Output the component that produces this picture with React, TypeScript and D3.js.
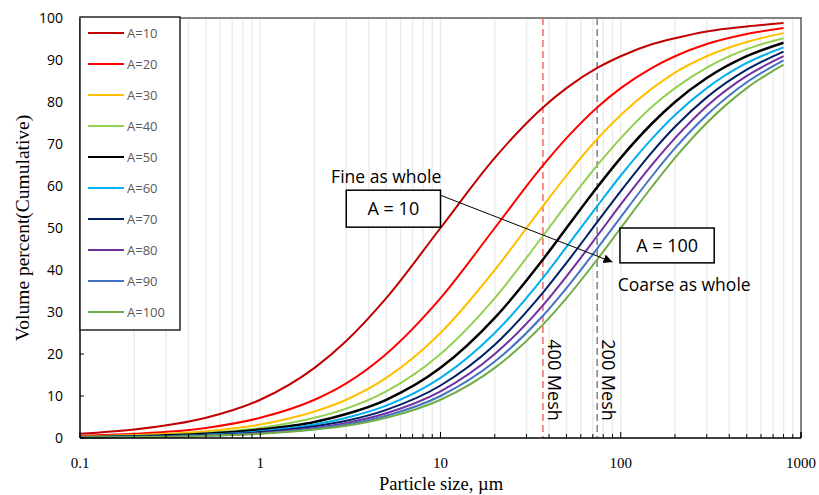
import { useEffect, useRef } from 'react';
import * as d3 from 'd3';

// particle sizes (µm) where the curves were read
const SIZES = [0.1, 0.2, 0.5, 1, 2, 3, 5, 10, 20, 37, 50, 74, 100, 150, 200, 300, 500, 800];

const A10 = [1.0, 2.0, 4.8, 9.1, 16.7, 23.1, 33.3, 50.0, 66.7, 78.7, 83.3, 88.1, 90.9, 93.8, 95.2, 96.8, 98.0, 98.8];
const A20 = [0.5, 1.0, 2.4, 4.8, 9.1, 13.0, 20.0, 33.3, 50.0, 64.9, 71.4, 78.7, 83.3, 88.2, 90.9, 93.8, 96.2, 97.6];
const A30 = [0.3, 0.7, 1.6, 3.2, 6.3, 9.1, 14.3, 25.0, 40.0, 55.2, 62.5, 71.2, 76.9, 83.3, 87.0, 90.9, 94.3, 96.4];
const A40 = [0.25, 0.5, 1.2, 2.4, 4.8, 7.0, 11.1, 20.0, 33.3, 48.1, 55.6, 64.9, 71.4, 79.0, 83.3, 88.2, 92.6, 95.2];
const A50 = [0.2, 0.4, 1.0, 2.0, 3.8, 5.7, 9.1, 16.7, 28.6, 42.5, 50.0, 59.7, 66.7, 75.0, 80.0, 85.7, 90.9, 94.1];
const A60 = [0.17, 0.33, 0.8, 1.6, 3.2, 4.8, 7.7, 14.3, 25.0, 38.1, 45.5, 55.2, 62.5, 71.4, 76.9, 83.3, 89.3, 93.0];
const A70 = [0.14, 0.28, 0.7, 1.4, 2.8, 4.1, 6.7, 12.5, 22.2, 34.6, 41.7, 51.4, 58.8, 68.2, 74.1, 81.1, 87.7, 92.0];
const A80 = [0.12, 0.25, 0.6, 1.2, 2.4, 3.6, 5.9, 11.1, 20.0, 31.6, 38.5, 48.1, 55.6, 65.2, 71.4, 79.0, 86.2, 90.9];
const A90 = [0.11, 0.22, 0.55, 1.1, 2.2, 3.2, 5.3, 10.0, 18.2, 29.1, 35.7, 45.1, 52.6, 62.5, 69.0, 76.9, 84.7, 89.9];
const A100 = [0.1, 0.2, 0.5, 1.0, 2.0, 2.9, 4.8, 9.1, 16.7, 27.0, 33.3, 42.5, 50.0, 60.0, 66.7, 75.0, 83.3, 88.9];

const SERIES_NAMES = ['A=10', 'A=20', 'A=30', 'A=40', 'A=50', 'A=60', 'A=70', 'A=80', 'A=90', 'A=100'];
const SERIES_VALUES = [A10, A20, A30, A40, A50, A60, A70, A80, A90, A100];
const COLORS = ['#c00000', '#ff0000', '#ffc000', '#92d050', '#000000', '#00b0f0', '#002060', '#7030a0', '#4472c4', '#70ad47'];

const X_TICKS = [0.1, 1, 10, 100, 1000];
const Y_TICKS = [0, 10, 20, 30, 40, 50, 60, 70, 80, 90, 100];

// sieve openings (µm)
const MESH = [
  { size: 37, label: '400 Mesh', color: '#ef6b6b' },
  { size: 74, label: '200 Mesh', color: '#7f7f7f' },
];

export default function App() {
  const svgRef = useRef<SVGSVGElement>(null);

  useEffect(() => {
    if (!svgRef.current) return;
    const width = 819;
    const height = 495;
    const margin = { top: 18, right: 18, bottom: 57, left: 80 };
    const innerW = width - margin.left - margin.right;
    const innerH = height - margin.top - margin.bottom;

    const svg = d3.select(svgRef.current);
    svg.selectAll('*').remove();
    svg.attr('width', width).attr('height', height);

    const g = svg.append('g').attr('transform', `translate(${margin.left},${margin.top})`);

    const x = d3.scaleLog().domain([0.1, 1000]).range([0, innerW]);
    const y = d3.scaleLinear().domain([0, 100]).range([innerH, 0]);

    // minor vertical gridlines
    const minor: number[] = [];
    [0.1, 1, 10, 100].forEach(d => {
      for (let k = 2; k <= 10; k++) minor.push(d * k);
    });
    g.selectAll('.grid')
      .data(minor.filter(v => v < 1000))
      .enter()
      .append('line')
      .attr('x1', d => x(d))
      .attr('x2', d => x(d))
      .attr('y1', 0)
      .attr('y2', innerH)
      .attr('stroke', '#ececec')
      .attr('stroke-width', 1.5);

    // top & right frame
    g.append('path')
      .attr('d', `M0,0H${innerW}V${innerH}`)
      .attr('fill', 'none')
      .attr('stroke', '#595959')
      .attr('stroke-width', 1.5);

    // mesh lines
    MESH.forEach(m => {
      g.append('line')
        .attr('x1', x(m.size))
        .attr('x2', x(m.size))
        .attr('y1', 0)
        .attr('y2', innerH)
        .attr('stroke', m.color)
        .attr('stroke-width', 1.5)
        .attr('stroke-dasharray', '7,4');
      g.append('text')
        .attr('transform', `translate(${x(m.size) + 5},${y(23.5)}) rotate(90)`)
        .attr('font-family', 'Open Sans, sans-serif')
        .attr('font-size', '18px')
        .attr('fill', '#000')
        .text(m.label);
    });

    // curves
    const line = d3.line<number>()
      .x((_, i) => x(SIZES[i]))
      .y(d => y(d))
      .curve(d3.curveMonotoneX);

    SERIES_VALUES.forEach((vals, i) => {
      g.append('path')
        .attr('d', line(vals) || '')
        .attr('fill', 'none')
        .attr('stroke', COLORS[i])
        .attr('stroke-width', i === 4 ? 2.5 : 2);
    });

    // axes
    const xAxis = g.append('g').attr('transform', `translate(0,${innerH})`);
    xAxis.append('line').attr('x1', 0).attr('x2', innerW).attr('stroke', '#000').attr('stroke-width', 1.5);
    xAxis.selectAll('.mt')
      .data(minor.concat([0.1, 1000]))
      .enter()
      .append('line')
      .attr('x1', d => x(d))
      .attr('x2', d => x(d))
      .attr('y1', 0)
      .attr('y2', d => (X_TICKS.includes(d) ? -6 : -4))
      .attr('stroke', '#000');
    xAxis.selectAll('.xl')
      .data(X_TICKS)
      .enter()
      .append('text')
      .attr('x', d => x(d))
      .attr('y', 30)
      .attr('text-anchor', 'middle')
      .attr('font-family', 'Liberation Serif, serif')
      .attr('font-size', '15px')
      .attr('fill', '#000')
      .text(d => String(d));

    const yAxis = g.append('g');
    yAxis.append('line').attr('y1', 0).attr('y2', innerH).attr('stroke', '#000').attr('stroke-width', 1.5);
    yAxis.selectAll('.yt')
      .data(Y_TICKS)
      .enter()
      .append('line')
      .attr('x1', 0)
      .attr('x2', 4)
      .attr('y1', d => y(d))
      .attr('y2', d => y(d))
      .attr('stroke', '#000');
    yAxis.selectAll('.yl')
      .data(Y_TICKS)
      .enter()
      .append('text')
      .attr('x', -17)
      .attr('y', d => y(d))
      .attr('dy', '0.35em')
      .attr('text-anchor', 'end')
      .attr('font-family', 'Open Sans, sans-serif')
      .attr('font-size', '14px')
      .attr('fill', '#000')
      .text(d => d);

    // axis titles
    svg.append('text')
      .attr('x', margin.left + innerW / 2 + 0.5)
      .attr('y', 490)
      .attr('text-anchor', 'middle')
      .attr('font-family', 'Liberation Serif, serif')
      .attr('font-size', '18.5px')
      .text('Particle size, µm');
    svg.append('text')
      .attr('transform', `translate(29,${margin.top + innerH / 2}) rotate(-90)`)
      .attr('text-anchor', 'middle')
      .attr('font-family', 'Liberation Serif, serif')
      .attr('font-size', '19.5px')
      .text('Volume percent(Cumulative)');

    // legend
    const legend = g.append('g');
    legend.append('rect')
      .attr('x', 0)
      .attr('y', -1)
      .attr('width', 100)
      .attr('height', 313)
      .attr('fill', '#fff')
      .attr('stroke', '#262626')
      .attr('stroke-width', 1.5);
    SERIES_NAMES.forEach((name, i) => {
      const ly = 15 + i * 31;
      legend.append('line')
        .attr('x1', 8)
        .attr('x2', 44)
        .attr('y1', ly)
        .attr('y2', ly)
        .attr('stroke', COLORS[i])
        .attr('stroke-width', 2);
      legend.append('text')
        .attr('x', 47)
        .attr('y', ly)
        .attr('dy', '0.35em')
        .attr('font-family', 'Open Sans, sans-serif')
        .attr('font-size', '13px')
        .attr('fill', '#595959')
        .text(name);
    });

    // annotations
    const ann = g.append('g').attr('font-family', 'Open Sans, sans-serif').attr('fill', '#000');
    ann.append('text')
      .attr('x', x(5))
      .attr('y', y(60.6))
      .attr('text-anchor', 'middle')
      .attr('font-size', '17.5px')
      .text('Fine as whole');
    ann.append('text')
      .attr('x', x(225))
      .attr('y', y(35))
      .attr('text-anchor', 'middle')
      .attr('font-size', '17.5px')
      .text('Coarse as whole');

    const boxes = [
      { x0: 3, x1: 10, y0: 50.2, y1: 59, label: 'A = 10' },
      { x0: 99, x1: 330, y0: 41.7, y1: 50, label: 'A = 100' },
    ];
    boxes.forEach(b => {
      ann.append('rect')
        .attr('x', x(b.x0))
        .attr('y', y(b.y1))
        .attr('width', x(b.x1) - x(b.x0))
        .attr('height', y(b.y0) - y(b.y1))
        .attr('fill', '#fff')
        .attr('stroke', '#000')
        .attr('stroke-width', 1.5);
      ann.append('text')
        .attr('x', (x(b.x0) + x(b.x1)) / 2)
        .attr('y', (y(b.y0) + y(b.y1)) / 2)
        .attr('dy', '0.35em')
        .attr('text-anchor', 'middle')
        .attr('font-size', '18px')
        .text(b.label);
    });

    svg.append('defs')
      .append('marker')
      .attr('id', 'arrow')
      .attr('viewBox', '0 0 10 10')
      .attr('refX', 10)
      .attr('refY', 5)
      .attr('markerWidth', 9)
      .attr('markerHeight', 9)
      .attr('markerUnits', 'userSpaceOnUse')
      .attr('orient', 'auto')
      .append('path')
      .attr('d', 'M0,0L10,5L0,10z')
      .attr('fill', '#000');

    ann.append('line')
      .attr('x1', x(10))
      .attr('y1', y(57.8))
      .attr('x2', x(90))
      .attr('y2', y(41.9))
      .attr('stroke', '#000')
      .attr('stroke-width', 1)
      .attr('marker-end', 'url(#arrow)');
  }, []);

  return (
    <div style={{ position: 'absolute', left: 0, top: 0, background: '#fff' }}>
      <svg ref={svgRef} style={{ display: 'block' }}></svg>
    </div>
  );
}
